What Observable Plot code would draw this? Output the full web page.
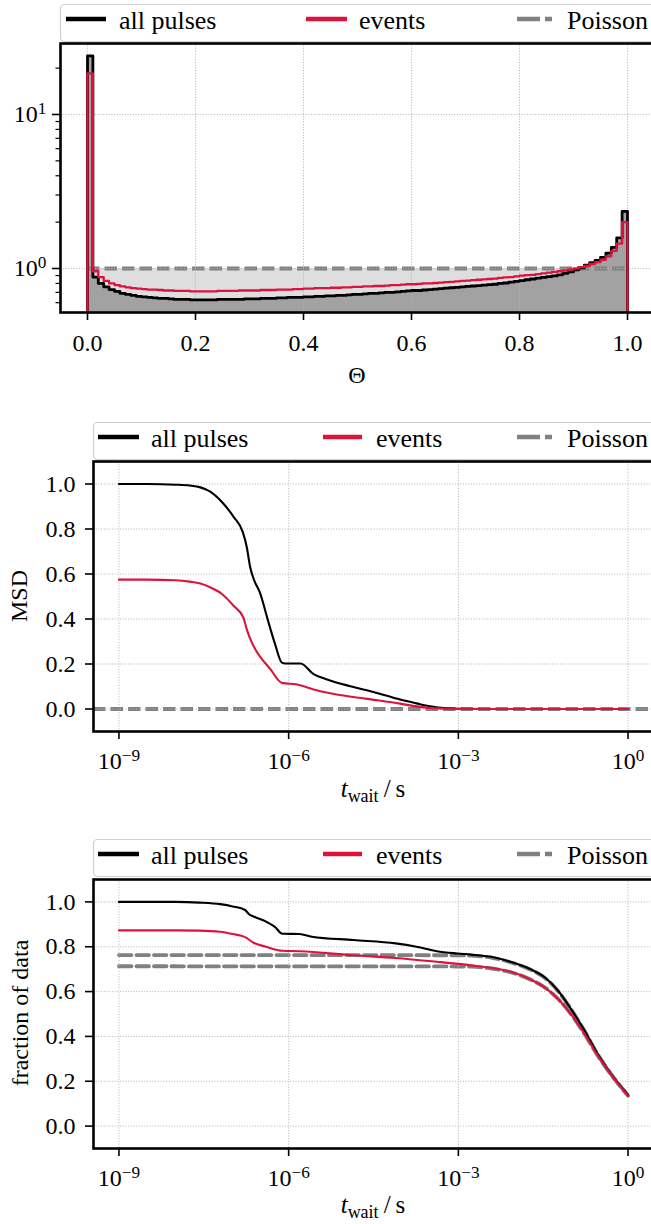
<!DOCTYPE html>
<html>
<head>
<meta charset="utf-8">
<script src="https://cdn.jsdelivr.net/npm/d3@7"></script>
<script src="https://cdn.jsdelivr.net/npm/@observablehq/plot@0.6"></script>
<style>
html, body { margin: 0; padding: 0; background: #fff; overflow: hidden; }
#page { position: relative; width: 651px; height: 1224px; overflow: hidden; background: #fff; font-family: "Liberation Serif", serif; }
#page svg { position: absolute; left: 0; max-width: none !important; font-family: "Liberation Serif", serif !important; }
#page svg text { font-family: "Liberation Serif", serif !important; }
</style>
</head>
<body>
<div id="page"></div>
<script>
// ---------------- DATA ----------------
const seriesNames = ["all pulses", "events", "Poisson"];
const seriesColors = ["#000000", "#dc143c", "#808080"];

// Panel 1: histogram of Theta (100 bins over [0, 1])
const thetaBinWidth = 0.01;
const histAllPulses = [
  24.0, 0.88, 0.80, 0.76, 0.73, 0.71, 0.69, 0.68, 0.67, 0.66,
  0.655, 0.65, 0.645, 0.64, 0.64, 0.635, 0.63, 0.63, 0.63, 0.625,
  0.625, 0.625, 0.625, 0.625, 0.63, 0.63, 0.63, 0.63, 0.63, 0.635,
  0.635, 0.635, 0.64, 0.64, 0.64, 0.645, 0.645, 0.65, 0.65, 0.65,
  0.655, 0.655, 0.66, 0.66, 0.665, 0.665, 0.67, 0.67, 0.675, 0.68,
  0.68, 0.685, 0.69, 0.69, 0.695, 0.70, 0.70, 0.705, 0.71, 0.715,
  0.72, 0.72, 0.725, 0.73, 0.735, 0.74, 0.745, 0.75, 0.755, 0.76,
  0.765, 0.77, 0.775, 0.78, 0.785, 0.79, 0.80, 0.805, 0.815, 0.825,
  0.835, 0.845, 0.855, 0.865, 0.875, 0.885, 0.895, 0.91, 0.93, 0.95,
  0.98, 1.01, 1.05, 1.09, 1.13, 1.18, 1.26, 1.37, 1.58, 2.35
];
const histEvents = [
  18.5, 0.96, 0.88, 0.83, 0.80, 0.78, 0.765, 0.755, 0.745, 0.74,
  0.735, 0.73, 0.73, 0.725, 0.72, 0.72, 0.715, 0.715, 0.715, 0.71,
  0.71, 0.71, 0.71, 0.71, 0.715, 0.715, 0.715, 0.715, 0.72, 0.72,
  0.72, 0.72, 0.725, 0.725, 0.725, 0.73, 0.73, 0.73, 0.735, 0.735,
  0.74, 0.74, 0.745, 0.745, 0.745, 0.75, 0.75, 0.755, 0.755, 0.76,
  0.76, 0.765, 0.765, 0.77, 0.77, 0.775, 0.78, 0.78, 0.785, 0.79,
  0.79, 0.795, 0.80, 0.80, 0.805, 0.81, 0.815, 0.82, 0.825, 0.83,
  0.835, 0.84, 0.845, 0.85, 0.855, 0.86, 0.87, 0.875, 0.88, 0.89,
  0.90, 0.905, 0.91, 0.92, 0.93, 0.94, 0.95, 0.96, 0.97, 0.985,
  1.00, 1.02, 1.04, 1.07, 1.10, 1.14, 1.20, 1.30, 1.45, 2.0
];
const poissonDensity = 1.0;
const thetaTicks = [0, 0.2, 0.4, 0.6, 0.8, 1.0];
const densityMajorTicks = [1, 10];
const densityMinorTicks = [0.6, 0.7, 0.8, 0.9, 2, 3, 4, 5, 6, 7, 8, 9, 20];

// Panel 2: MSD vs t_wait (log10 seconds)
const msdAllLogT = [-9, -8.5, -8.0, -7.75, -7.56, -7.38, -7.18, -6.97, -6.81, -6.74, -6.68, -6.62, -6.50, -6.38, -6.24, -6.12, -6.06, -5.79, -5.56, -5.32, -4.91, -4.50, -4.03, -3.74, -3.5, -3.2, -3.0, -2.5, -1.0, 0];
const msdAllValue = [1.0, 1.0, 0.997, 0.993, 0.985, 0.965, 0.92, 0.853, 0.786, 0.719, 0.63, 0.579, 0.512, 0.406, 0.288, 0.206, 0.202, 0.202, 0.155, 0.131, 0.101, 0.076, 0.042, 0.025, 0.012, 0.003, 0.001, 0.0, 0.0, 0.0];
const msdEventsLogT = [-9, -8.5, -8.0, -7.75, -7.56, -7.38, -7.18, -6.97, -6.80, -6.74, -6.65, -6.59, -6.32, -6.12, -5.85, -5.56, -5.20, -4.61, -4.03, -3.8, -3.53, -3.0, 0];
const msdEventsValue = [0.575, 0.575, 0.572, 0.566, 0.558, 0.54, 0.511, 0.458, 0.406, 0.354, 0.295, 0.266, 0.176, 0.116, 0.109, 0.087, 0.067, 0.045, 0.024, 0.014, 0.005, 0.0, 0.0];
const msdPoisson = 0.0;

// Panel 3: fraction of data vs t_wait (log10 seconds)
const fracAllLogT = [-9, -8, -7.58, -7.21, -6.99, -6.77, -6.7, -6.62, -6.40, -6.25, -6.11, -5.81, -5.59, -4.85, -4.11, -3.74, -3.38, -3.02, -2.77, -2.42, -2.07, -1.71, -1.48, -1.24, -1.01, -0.77, -0.535, -0.30, 0];
const fracAllValue = [1.0, 1.0, 0.997, 0.99, 0.98, 0.964, 0.945, 0.935, 0.912, 0.89, 0.858, 0.857, 0.845, 0.83, 0.815, 0.80, 0.78, 0.77, 0.765, 0.755, 0.732, 0.698, 0.665, 0.605, 0.523, 0.426, 0.32, 0.232, 0.139];
const fracEventsLogT = [-9, -8, -7.58, -7.21, -6.99, -6.77, -6.62, -6.4, -6.11, -5.81, -4.85, -4.11, -3.38, -2.77, -2.42, -2.07, -1.71, -1.48, -1.24, -1.01, -0.77, -0.535, -0.30, 0];
const fracEventsValue = [0.873, 0.873, 0.872, 0.867, 0.857, 0.843, 0.818, 0.80, 0.782, 0.78, 0.762, 0.75, 0.733, 0.717, 0.706, 0.688, 0.653, 0.62, 0.568, 0.50, 0.411, 0.314, 0.229, 0.135];
const fracPoissonAllLogT = [-9, -3, -2.77, -2.42, -2.07, -1.71, -1.48, -1.24, -1.01, -0.77, -0.535, -0.30, 0];
const fracPoissonAllValue = [0.763, 0.762, 0.76, 0.752, 0.73, 0.696, 0.663, 0.603, 0.522, 0.425, 0.32, 0.232, 0.138];
const fracPoissonEventsLogT = [-9, -3, -2.77, -2.42, -2.07, -1.71, -1.48, -1.24, -1.01, -0.77, -0.535, -0.30, 0];
const fracPoissonEventsValue = [0.713, 0.712, 0.711, 0.703, 0.686, 0.652, 0.62, 0.568, 0.50, 0.411, 0.314, 0.229, 0.135];

const tWaitTicks = [1e-9, 1e-6, 1e-3, 1];
const unitTicks = [0, 0.2, 0.4, 0.6, 0.8, 1.0];

// ---------------- HELPERS ----------------
const FONT = "Liberation Serif";
const GRID = {stroke: "#b5b5b5", strokeOpacity: 1, strokeWidth: 1, strokeDasharray: "1,1.7"};
const DASH = {stroke: seriesColors[2], strokeWidth: 3.8, strokeDasharray: "12.5,5"};
const expFmt = d => { const e = Math.round(Math.log10(d)); return "10^" + (e < 0 ? "\u2212" + (-e) : String(e)); };
const toPts = (lx, vy) => lx.map((l, i) => ({t: Math.pow(10, l), v: vy[i]}));

function supFix(svg) {
  d3.select(svg).selectAll("text").each(function () {
    const m = /^10\^(.+)$/.exec(this.textContent);
    if (!m) return;
    const el = d3.select(this);
    el.text(null);
    el.append("tspan").text("10");
    el.append("tspan").attr("dy", "-0.45em").attr("font-size", "0.72em").text(m[1]);
  });
  return svg;
}

const page = document.getElementById("page");
function place(svg, top) { svg.style.top = top + "px"; page.appendChild(svg); }

// ---------------- PANEL 1 ----------------
const y1Min = 0.518, y1Max = 28.9;
function stepPts(vals) {
  const pts = [];
  vals.forEach((v, i) => pts.push({x: i * thetaBinWidth, y: v}));
  pts.push({x: vals.length * thetaBinWidth, y: vals[vals.length - 1]});
  return pts;
}
function stepOutline(vals) {
  const pts = stepPts(vals);
  return [{x: 0, y: y1Min}, ...pts, {x: pts[pts.length - 1].x, y: y1Min}];
}
const poissonBins = stepPts(histAllPulses.map(() => poissonDensity));
const p1 = Plot.plot({
  width: 660, height: 400, marginLeft: 60, marginRight: 6, marginTop: 43, marginBottom: 88,
  style: {fontFamily: FONT, fontSize: "24px", background: "transparent", maxWidth: "none"},
  x: {domain: [-0.05, 1.05]},
  y: {type: "log", domain: [y1Min, y1Max]},
  marks: [
    Plot.areaY(poissonBins, {x: "x", y1: () => y1Min, y2: "y", curve: "step-after", fill: "#dedede"}),
    Plot.areaY(stepPts(histAllPulses), {x: "x", y1: () => y1Min, y2: "y", curve: "step-after", fill: "#a2a2a2"}),
    Plot.ruleY([poissonDensity], {x1: 0, x2: 1, ...DASH}),
    Plot.gridX(thetaTicks, GRID),
    Plot.gridY(densityMajorTicks, GRID),
    Plot.line(stepOutline(histAllPulses), {x: "x", y: "y", curve: "step-after", stroke: seriesColors[0], strokeWidth: 2.8}),
    Plot.line(stepOutline(histEvents), {x: "x", y: "y", curve: "step-after", stroke: seriesColors[1], strokeWidth: 2.3}),
    Plot.frame({stroke: "#000", strokeWidth: 2.6}),
    Plot.axisX({ticks: thetaTicks, tickFormat: d3.format(".1f"), tickSize: 8, tickPadding: 13, strokeWidth: 1.6, fontSize: 24, fontFamily: FONT, label: null}),
    Plot.axisY({ticks: densityMajorTicks, tickFormat: expFmt, tickSize: 8, tickPadding: 6, strokeWidth: 1.6, fontSize: 24, fontFamily: FONT, label: null}),
    Plot.axisY({ticks: densityMinorTicks, tickFormat: () => "", tickSize: 4.5, strokeWidth: 1.2, label: null})
  ]
});
place(supFix(p1), 0);

// ---------------- PANELS 2, 3 ----------------
const xLogDomain = [Math.pow(10, -9.45), Math.pow(10, 0.45)];
function timePanel(opts) {
  return Plot.plot({
    width: 661, height: opts.height, marginLeft: 93, marginRight: 8, marginTop: opts.mt, marginBottom: opts.mb,
    style: {fontFamily: FONT, fontSize: "24px", background: "transparent", maxWidth: "none"},
    x: {type: "log", domain: xLogDomain},
    y: {domain: [-0.1, 1.1]},
    marks: [
      ...opts.poisson,
      Plot.gridX(tWaitTicks, GRID),
      Plot.gridY(unitTicks, GRID),
      Plot.line(opts.all, {x: "t", y: "v", stroke: seriesColors[0], strokeWidth: 2.1, curve: "monotone-x"}),
      Plot.line(opts.ev, {x: "t", y: "v", stroke: seriesColors[1], strokeWidth: 2.1, curve: "monotone-x"}),
      Plot.frame({stroke: "#000", strokeWidth: 2.6}),
      Plot.axisX({ticks: tWaitTicks, tickFormat: expFmt, tickSize: 8, tickPadding: 12, strokeWidth: 1.6, fontSize: 24, fontFamily: FONT, label: null}),
      Plot.axisY({ticks: unitTicks, tickFormat: d3.format(".1f"), tickSize: 8, tickPadding: 10, strokeWidth: 1.6, fontSize: 24, fontFamily: FONT, label: null})
    ]
  });
}
const p2 = timePanel({
  height: 400, mt: 51, mb: 79,
  poisson: [Plot.ruleY([msdPoisson], DASH)],
  all: toPts(msdAllLogT, msdAllValue),
  ev: toPts(msdEventsLogT, msdEventsValue)
});
place(supFix(p2), 410);

const p3 = timePanel({
  height: 404, mt: 59, mb: 76,
  poisson: [
    Plot.line(toPts(fracPoissonAllLogT, fracPoissonAllValue), {x: "t", y: "v", curve: "monotone-x", ...DASH}),
    Plot.line(toPts(fracPoissonEventsLogT, fracPoissonEventsValue), {x: "t", y: "v", curve: "monotone-x", ...DASH})
  ],
  all: toPts(fracAllLogT, fracAllValue),
  ev: toPts(fracEventsLogT, fracEventsValue)
});
place(supFix(p3), 820);

// ---------------- LEGENDS & AXIS LABELS ----------------
const ov = d3.select(page).append("svg")
  .attr("width", 651).attr("height", 1224).style("top", "0px")
  .attr("font-family", FONT);

function legend(left, top, handles) {
  const g = ov.append("g");
  g.append("rect").attr("x", left + 0.5).attr("y", top + 0.5).attr("width", 700).attr("height", 37)
    .attr("rx", 4).attr("fill", "#fff").attr("stroke", "#cfcfcf").attr("stroke-width", 1.2);
  seriesNames.forEach((name, i) => {
    const [hx1, hx2, tx] = handles[i];
    g.append("line").attr("x1", hx1).attr("x2", hx2).attr("y1", top + 15).attr("y2", top + 15)
      .attr("stroke", seriesColors[i]).attr("stroke-width", 4.5)
      .attr("stroke-dasharray", i === 2 ? "23,5" : null);
    g.append("text").attr("x", tx).attr("y", top + 25).attr("font-size", 26).attr("fill", "#000").text(name);
  });
}
legend(60, 4, [[66, 106, 119], [306, 347, 359], [517, 552, 567]]);
legend(93, 422, [[98, 139, 151], [323, 362, 376], [517, 552, 567]]);
legend(93, 839, [[98, 139, 151], [323, 362, 376], [517, 552, 567]]);

// x-axis labels
ov.append("text").attr("x", 357).attr("y", 383).attr("text-anchor", "middle").attr("font-size", 24).text("\u0398");
function tLabel(y) {
  const t = ov.append("text").attr("x", 373).attr("y", y).attr("text-anchor", "middle").attr("font-size", 25);
  t.append("tspan").attr("font-style", "italic").text("t");
  t.append("tspan").attr("font-size", 18).attr("dy", 5).text("wait");
  t.append("tspan").attr("dy", -5).text("\u2009/\u2009s");
}
tLabel(797);
tLabel(1213);

// y-axis labels
ov.append("text").attr("transform", "translate(27,596) rotate(-90)").attr("text-anchor", "middle").attr("font-size", 24).text("MSD");
ov.append("text").attr("transform", "translate(28,1013) rotate(-90)").attr("text-anchor", "middle").attr("font-size", 24).text("fraction of data");
</script>
</body>
</html>
